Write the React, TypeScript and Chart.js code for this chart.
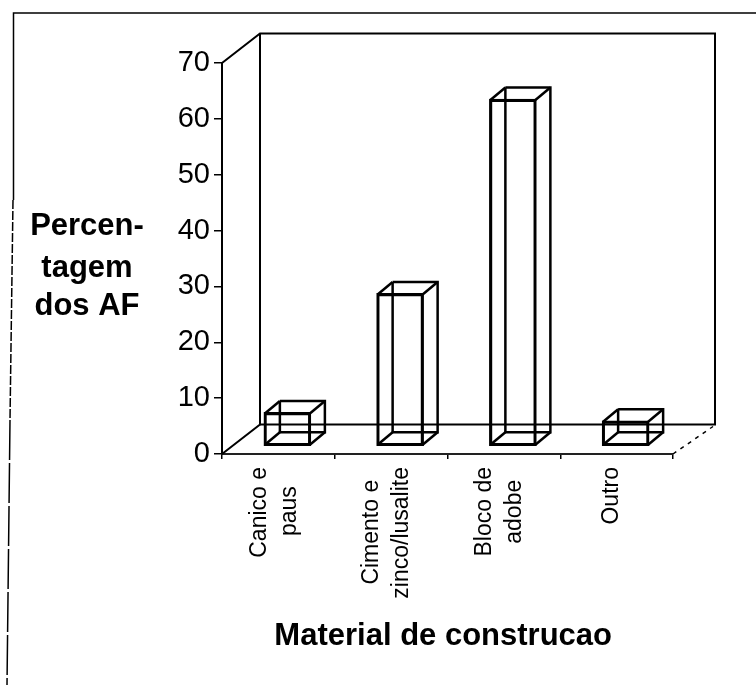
import React, { useEffect, useRef } from "react";
import { Chart, registerables } from "chart.js";

Chart.register(...registerables);

const categories: string[][] = [
  ["Canico e", "paus"],
  ["Cimento e", "zinco/lusalite"],
  ["Bloco de", "adobe"],
  ["Outro"],
];
const percentages = [6.1, 27.4, 62.2, 4.6];
const yTitleLines = ["Percen-", "tagem", "dos AF"];
const xTitle = "Material de construcao";

const FONT = '"Liberation Sans", Arial, sans-serif';
const NBSP = "\u00A0";
const INK = "#000000";
const DEPTH = { dx: 15, dy: -12.5 };
const BAR_SHIFT = { dx: 9, dy: -7.5 };
const WALL = { dx: 38, dy: -29.5 };

function padLines(lines: string[], font: string): string[] {
  if (lines.length === 1) return ["", lines[0]];
  const ctx = document.createElement("canvas").getContext("2d")!;
  ctx.font = font;
  const widest = Math.max(...lines.map((l) => ctx.measureText(l).width));
  const sp = ctx.measureText(NBSP).width;
  return lines.map((l) => {
    const gap = (widest - ctx.measureText(l).width) / 2;
    return l + NBSP.repeat(Math.round(gap / sp));
  });
}

function line(ctx: CanvasRenderingContext2D, pts: number[][]) {
  ctx.beginPath();
  pts.forEach(([x, y], i) => (i ? ctx.lineTo(x, y) : ctx.moveTo(x, y)));
  ctx.stroke();
}

const scene = {
  id: "scene",
  beforeDraw(chart: any) {
    const { ctx } = chart;
    ctx.save();
    ctx.strokeStyle = INK;
    ctx.lineWidth = 1.5;
    line(ctx, [[13.5, 200], [13.5, 13], [756, 13]]);
    ctx.setLineDash([9, 2]);
    line(ctx, [[13, 200], [10, 420]]);
    ctx.setLineDash([40, 3]);
    line(ctx, [[10, 420], [7, 685]]);
    ctx.setLineDash([]);
    ctx.fillStyle = INK;
    ctx.font = `bold 31px ${FONT}`;
    ctx.textAlign = "center";
    ctx.textBaseline = "middle";
    const ys = [226, 268, 306];
    yTitleLines.forEach((t, i) => ctx.fillText(t, 87, ys[i]));
    ctx.restore();
  },
  beforeDatasetsDraw(chart: any) {
    const { ctx, chartArea: a } = chart;
    ctx.save();
    ctx.strokeStyle = INK;
    ctx.lineWidth = 2;
    const bx = a.left + WALL.dx;
    const brx = a.right + WALL.dx + 4;
    const ty = a.top + WALL.dy;
    const by = a.bottom + WALL.dy;
    line(ctx, [[a.left, a.top], [bx, ty], [brx, ty], [brx, by], [bx, by]]);
    line(ctx, [[bx, ty], [bx, by], [a.left, a.bottom]]);
    ctx.lineWidth = 1.5;
    ctx.setLineDash([4, 5]);
    line(ctx, [[a.right, a.bottom], [brx - 2, by + 2]]);
    ctx.restore();
    ctx.save();
    ctx.translate(BAR_SHIFT.dx, BAR_SHIFT.dy);
  },
  afterDatasetsDraw(chart: any) {
    const { ctx } = chart;
    ctx.strokeStyle = INK;
    ctx.lineWidth = 2.5;
    const { dx, dy } = DEPTH;
    chart.getDatasetMeta(0).data.forEach((el: any) => {
      const { x, y, base, width } = el.getProps(["x", "y", "base", "width"], true);
      const l = x - width / 2 + 1;
      const r = x + width / 2 - 1;
      const t = y + 1;
      const b = base - 1;
      line(ctx, [[l + dx, t + dy], [r + dx, t + dy], [r + dx, b + dy], [l + dx, b + dy], [l + dx, t + dy]]);
      line(ctx, [[l, t], [l + dx, t + dy]]);
      line(ctx, [[r, t], [r + dx, t + dy]]);
      line(ctx, [[r, b], [r + dx, b + dy]]);
      line(ctx, [[l, b], [l + dx, b + dy]]);
    });
    ctx.restore();
  },
};

export default function App() {
  const ref = useRef<HTMLCanvasElement>(null);
  useEffect(() => {
    const tickFont = `23px ${FONT}`;
    const chart = new Chart(ref.current!, {
      type: "bar",
      data: {
        labels: categories.map((c) => padLines(c, tickFont)),
        datasets: [
          {
            label: "Percentagem dos AF",
            data: percentages,
            backgroundColor: "transparent",
            borderColor: INK,
            borderWidth: 2.5,
            borderSkipped: false,
            barThickness: 47,
            clip: false,
          } as any,
        ],
      },
      options: {
        animation: false,
        responsive: false,
        layout: { padding: { left: 0, top: 63, right: 83, bottom: 0 } },
        plugins: { legend: { display: false }, tooltip: { enabled: false }, title: { display: false } },
        scales: {
          x: {
            grid: { drawOnChartArea: false, color: INK, tickLength: 5, lineWidth: 1.5 },
            border: { color: "#222222", width: 2 },
            afterFit: (s: any) => {
              s.height = 231;
            },
            ticks: {
              color: INK,
              font: (c: any) => ({
                family: FONT,
                size: 23,
                lineHeight: c.index === 3 ? 0.61 : 1.3,
              }),
              minRotation: 90,
              maxRotation: 90,
              autoSkip: false,
              padding: 8,
              labelOffset: -19,
            },
            title: {
              display: true,
              text: xTitle + NBSP,
              color: INK,
              font: { family: FONT, size: 31, weight: "bold", lineHeight: 1.2 },
              padding: { top: 0, bottom: 30 },
            },
          },
          y: {
            min: 0,
            max: 70,
            grid: { drawOnChartArea: false, color: INK, tickLength: 8, lineWidth: 1.5 },
            border: { color: INK, width: 2 },
            afterFit: (s: any) => {
              s.width = 222;
            },
            ticks: {
              stepSize: 10,
              color: INK,
              font: { family: FONT, size: 29 },
              padding: 4,
            },
          },
        },
      },
      plugins: [scene],
    } as any);
    return () => chart.destroy();
  }, []);
  return (
    <div style={{ position: "absolute", left: 0, top: 0, width: 756, height: 685, background: "#fff" }}>
      <canvas ref={ref} width={756} height={685} style={{ display: "block" }} />
    </div>
  );
}
